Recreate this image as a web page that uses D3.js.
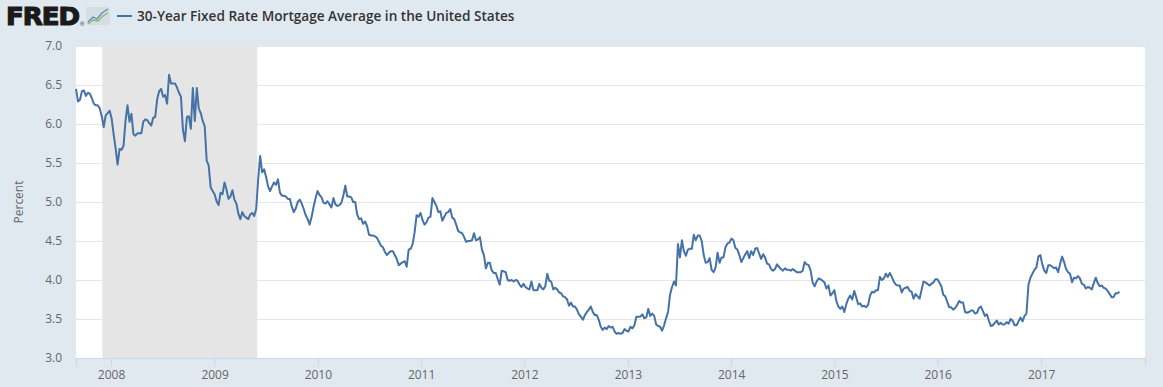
<!DOCTYPE html>
<html>
<head>
<meta charset="utf-8">
<script src="https://cdn.jsdelivr.net/npm/d3@7/dist/d3.min.js"></script>
<style>
  body { margin: 0; background: #e1e9f0; }
  svg { display: block; }
</style>
</head>
<body>
<svg id="chart" width="1163" height="387"></svg>
<script>
// weekly Freddie Mac PMMS readings, first week = 2007-08-30, one value per week
var firstWeek = "2007-08-30";
var rates2007 = [6.45,6.29,6.31,6.42,6.43,6.36,6.40,6.39,6.33,6.26,6.24,6.24,6.20,6.10,5.96,6.11,6.14,6.17];
var rates2008 = [6.07,5.87,5.69,5.48,5.68,5.67,5.72,6.04,6.24,6.03,6.13,5.87,5.85,5.88,5.88,5.88,6.03,6.06,6.05,6.01,5.98,6.08,6.09,6.32,6.42,6.45,6.35,6.37,6.26,6.63,6.52,6.52,6.52,6.47,6.40,6.35,5.93,5.78,6.09,6.10,5.94,6.46,6.04,6.46,6.20,6.14,6.04,5.97,5.53,5.47,5.19,5.14,5.10];
var rates2009 = [5.01,4.96,5.12,5.10,5.25,5.16,5.04,5.07,5.15,5.03,4.98,4.85,4.78,4.87,4.82,4.80,4.78,4.84,4.86,4.82,4.91,5.29,5.59,5.38,5.42,5.32,5.20,5.14,5.20,5.25,5.22,5.29,5.12,5.08,5.08,5.07,5.04,5.04,4.94,4.87,4.92,5.00,5.03,4.98,4.91,4.83,4.78,4.71,4.81,4.94,5.05,5.14];
var rates2010 = [5.09,5.06,4.99,4.98,5.01,4.97,4.93,5.05,4.97,4.95,4.96,4.99,5.08,5.21,5.07,5.07,5.06,5.00,5.00,4.84,4.78,4.79,4.72,4.75,4.69,4.58,4.57,4.57,4.56,4.54,4.49,4.44,4.42,4.36,4.32,4.35,4.37,4.37,4.32,4.27,4.19,4.21,4.23,4.24,4.17,4.39,4.40,4.46,4.61,4.83,4.81,4.86];
var rates2011 = [4.77,4.71,4.74,4.80,4.81,5.05,5.00,4.95,4.87,4.88,4.76,4.81,4.86,4.87,4.91,4.80,4.78,4.71,4.63,4.61,4.60,4.55,4.49,4.50,4.50,4.51,4.60,4.51,4.52,4.55,4.39,4.32,4.15,4.22,4.22,4.12,4.09,4.09,4.01,3.94,4.12,4.11,4.10,4.00,3.99,4.00,3.98,4.00,3.99,3.94,3.91,3.95];
var rates2012 = [3.91,3.89,3.88,3.98,3.87,3.87,3.87,3.95,3.90,3.88,3.92,4.08,3.99,3.98,3.88,3.90,3.88,3.84,3.83,3.79,3.78,3.75,3.67,3.71,3.66,3.66,3.62,3.56,3.53,3.49,3.55,3.59,3.62,3.66,3.59,3.55,3.55,3.49,3.40,3.36,3.39,3.37,3.41,3.39,3.40,3.34,3.31,3.32,3.31,3.32,3.37,3.35];
var rates2013 = [3.34,3.40,3.38,3.42,3.53,3.53,3.53,3.56,3.51,3.52,3.63,3.54,3.57,3.54,3.43,3.41,3.40,3.35,3.42,3.51,3.59,3.81,3.91,3.98,3.93,4.46,4.29,4.51,4.37,4.31,4.39,4.40,4.40,4.58,4.51,4.57,4.57,4.50,4.32,4.22,4.23,4.28,4.13,4.10,4.16,4.35,4.22,4.29,4.29,4.42,4.47,4.48];
var rates2014 = [4.53,4.51,4.41,4.39,4.32,4.23,4.28,4.33,4.37,4.28,4.37,4.32,4.40,4.41,4.34,4.27,4.33,4.29,4.21,4.20,4.14,4.12,4.14,4.20,4.17,4.14,4.12,4.15,4.13,4.13,4.12,4.14,4.12,4.10,4.10,4.10,4.12,4.23,4.20,4.19,4.12,3.97,3.92,3.98,4.02,4.01,3.99,3.97,3.89,3.93,3.80,3.83,3.87];
var rates2015 = [3.73,3.66,3.63,3.66,3.59,3.69,3.76,3.80,3.75,3.86,3.78,3.69,3.70,3.66,3.67,3.65,3.68,3.80,3.85,3.84,3.87,3.87,4.04,4.00,4.02,4.08,4.04,4.09,4.04,3.98,3.94,3.93,3.93,3.84,3.89,3.90,3.91,3.86,3.85,3.76,3.82,3.79,3.76,3.87,3.98,3.97,3.95,3.93,3.95,3.97,4.01,4.01];
var rates2016 = [3.97,3.92,3.81,3.79,3.72,3.65,3.65,3.62,3.64,3.68,3.73,3.71,3.71,3.59,3.58,3.59,3.61,3.61,3.57,3.58,3.64,3.66,3.60,3.54,3.56,3.48,3.41,3.42,3.45,3.48,3.43,3.45,3.43,3.43,3.46,3.44,3.50,3.48,3.42,3.42,3.47,3.52,3.47,3.54,3.57,3.94,4.03,4.08,4.13,4.16,4.30,4.32];
var rates2017 = [4.20,4.12,4.09,4.19,4.19,4.17,4.15,4.16,4.10,4.21,4.30,4.23,4.14,4.10,4.08,3.97,4.03,4.02,4.05,4.02,3.95,3.94,3.89,3.91,3.90,3.88,3.96,4.03,3.96,3.92,3.93,3.90,3.89,3.86,3.82,3.78,3.78,3.83,3.83,3.85];

var yTicks = [3.0,3.5,4.0,4.5,5.0,5.5,6.0,6.5,7.0];
var xYears = ["2008","2009","2010","2011","2012","2013","2014","2015","2016","2017"];
var recession = ["2007-12-01","2009-06-01"];
var seriesTitle = "30-Year Fixed Rate Mortgage Average in the United States";

var svg = d3.select("#chart"),
    margin = {top: 46, right: 18, bottom: 29, left: 76},
    width = +svg.attr("width") - margin.left - margin.right,
    height = +svg.attr("height") - margin.top - margin.bottom;

var parse = d3.utcParse("%Y-%m-%d");
var rates = [].concat(rates2007, rates2008, rates2009, rates2010, rates2011,
  rates2012, rates2013, rates2014, rates2015, rates2016, rates2017);
var start = parse(firstWeek);
var data = rates.map(function(v, i) { return {date: d3.utcWeek.offset(start, i), value: v}; });

var x = d3.scaleUtc()
    .domain([start, parse("2018-01-03")])
    .range([0, width]);
var y = d3.scaleLinear()
    .domain([3, 7])
    .range([height, 0]);

var g = svg.append("g").attr("transform", "translate(" + margin.left + "," + margin.top + ")");

g.append("rect")
    .attr("width", width).attr("height", height)
    .attr("fill", "#fff");

g.append("rect")
    .attr("x", x(parse(recession[0])))
    .attr("width", x(parse(recession[1])) - x(parse(recession[0])))
    .attr("height", height)
    .attr("fill", "#e5e5e5");

// grid
g.append("g")
    .call(d3.axisLeft(y).tickValues(yTicks).tickSize(-width).tickFormat(""))
    .call(function(s) {
      s.select(".domain").remove();
      s.selectAll("line").attr("stroke", "#e6e6e6");
    });

// y labels
g.append("g")
    .call(d3.axisLeft(y).tickValues(yTicks).tickSize(0).tickPadding(14).tickFormat(d3.format(".1f")))
    .call(function(s) {
      s.select(".domain").remove();
      s.selectAll("text").attr("fill", "#666").style("font", "12px 'Open Sans', sans-serif");
    });

svg.append("text")
    .attr("transform", "translate(23," + (margin.top + height / 2) + ") rotate(-90)")
    .attr("text-anchor", "middle")
    .attr("fill", "#666")
    .style("font", "12px 'Open Sans', sans-serif")
    .text("Percent");

// x axis
var yearDates = xYears.map(function(yr) { return parse(yr + "-01-01"); });
g.append("g")
    .attr("transform", "translate(0," + height + ")")
    .call(d3.axisBottom(x).tickValues(yearDates).tickSize(8).tickPadding(4).tickFormat(d3.utcFormat("%Y")))
    .call(function(s) {
      s.select(".domain").attr("stroke", "#ccd6eb");
      s.selectAll("line").attr("stroke", "#ccd6eb");
      s.selectAll("text").attr("fill", "#666").style("font", "12px 'Open Sans', sans-serif");
    });

var line = d3.line()
    .x(function(d) { return x(d.date); })
    .y(function(d) { return y(d.value); });

g.append("path")
    .datum(data)
    .attr("fill", "none")
    .attr("stroke", "#4572a7")
    .attr("stroke-width", 2)
    .attr("stroke-linejoin", "round")
    .attr("d", line);

// header: logo + legend
svg.append("text")
    .attr("x", 6).attr("y", 25)
    .attr("fill", "#1a1a1a")
    .attr("stroke", "#1a1a1a")
    .attr("stroke-width", 1.2)
    .attr("textLength", 73)
    .attr("lengthAdjust", "spacingAndGlyphs")
    .style("font", "bold 25px 'DejaVu Sans', sans-serif")
    .style("letter-spacing", "-1px")
    .text("FRED");
svg.append("text")
    .attr("x", 80).attr("y", 26)
    .attr("fill", "#1a1a1a")
    .style("font", "6px sans-serif")
    .text("®");

var icon = svg.append("g").attr("transform", "translate(86,7)");
icon.append("rect").attr("width", 24).attr("height", 18).attr("rx", 2).attr("fill", "#d6dde4");
icon.append("path").attr("d", "M2,15 L7,10 L11,12 L16,6 L22,2").attr("fill", "none").attr("stroke", "#5b8cc0").attr("stroke-width", 1.3);
icon.append("path").attr("d", "M2,17 L7,13 L12,14 L17,9 L22,6").attr("fill", "none").attr("stroke", "#8fb35a").attr("stroke-width", 1.3);

svg.append("line")
    .attr("x1", 117).attr("x2", 132).attr("y1", 16).attr("y2", 16)
    .attr("stroke", "#4572a7").attr("stroke-width", 2);
svg.append("text")
    .attr("x", 137).attr("y", 21)
    .attr("fill", "#333")
    .style("font", "600 13.6px 'Open Sans', sans-serif")
    .text(seriesTitle);
</script>
</body>
</html>
